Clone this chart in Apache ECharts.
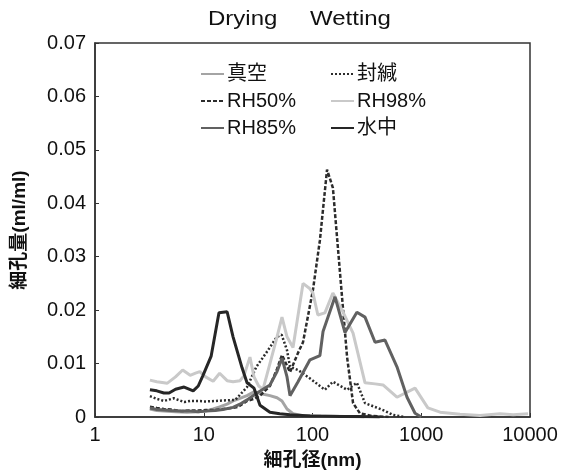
<!DOCTYPE html>
<html>
<head>
<meta charset="utf-8">
<script src="https://cdn.jsdelivr.net/npm/echarts@6/dist/echarts.min.js"></script>
<style>
html,body{margin:0;padding:0;background:#fff;}
#c{width:571px;height:476px;}
</style>
</head>
<body>
<div id="c"></div>
<script>
// Data: [pore diameter (nm), pore volume (ml/ml)]
var shinku = [[3.2,0.0015],[3.7,0.0012],[4.3,0.0011],[5.5,0.0010],[7.0,0.0009],[8.9,0.0010],[10.4,0.0011],[12.2,0.0015],[14.0,0.0019],[16.4,0.0024],[18.6,0.0030],[21.5,0.0035],[25.0,0.0040],[29.0,0.0047],[33.0,0.0044],[40.6,0.0040],[47.2,0.0036],[52.4,0.0030],[58.3,0.0015],[66.2,0.0006],[80,0.0003],[120,0.0002],[200,0.0001],[300,0]];
var fukan = [[3.2,0.0039],[3.7,0.0034],[4.3,0.0030],[5.3,0.0035],[6.6,0.0028],[7.5,0.0030],[8.9,0.0030],[10.4,0.0029],[12.7,0.0030],[15.0,0.0031],[19.5,0.0032],[25.0,0.0056],[30.5,0.0094],[39.0,0.0125],[47.0,0.0150],[52.0,0.0154],[58.3,0.0125],[62.1,0.0094],[73.6,0.0088],[85,0.0079],[101,0.0068],[117,0.0058],[130,0.0051],[154,0.0066],[208,0.0051],[256,0.0064],[304,0.0026],[445,0.0013],[550,0.0004],[700,0.0]];
var rh50 = [[3.2,0.0019],[3.7,0.0017],[4.3,0.0015],[5.0,0.0014],[6.2,0.0011],[7.5,0.0012],[8.9,0.0012],[10.4,0.0013],[12.7,0.0013],[15.0,0.0015],[18.6,0.0017],[20.7,0.0019],[25.0,0.0030],[29.0,0.0034],[32.9,0.0040],[40.6,0.0058],[47.2,0.0090],[52.4,0.0116],[62.1,0.0084],[73.6,0.0120],[81.8,0.0140],[101,0.0238],[117,0.0331],[136,0.0463],[154,0.0429],[179,0.0270],[208,0.0112],[236,0.0026],[273,0.0007],[350,0.0002],[500,0]];
var rh98 = [[3.2,0.0069],[3.7,0.0066],[4.3,0.0064],[4.6,0.0063],[5.5,0.0075],[6.4,0.0088],[7.5,0.0078],[8.4,0.0082],[9.2,0.0085],[10.4,0.0075],[12.2,0.0067],[14.0,0.0082],[16.4,0.0068],[18.6,0.0066],[21.5,0.0068],[23.4,0.0077],[26.6,0.0112],[29.0,0.0075],[32.0,0.0058],[35.1,0.0052],[40.6,0.0100],[47.2,0.0150],[52.4,0.0187],[58.3,0.0150],[66.2,0.0130],[81.8,0.0250],[94.8,0.0240],[101,0.0232],[112,0.0191],[130,0.0195],[154,0.0232],[187,0.0200],[236,0.0157],[304,0.0064],[376,0.0062],[445,0.0060],[598,0.0037],[877,0.0054],[1150,0.0017],[1490,0.0009],[2270,0.0005],[3470,0.0003],[5300,0.0006],[7000,0.0004],[9590,0.0006]];
var rh85 = [[3.2,0.0017],[3.7,0.0014],[4.3,0.0013],[5.0,0.0012],[6.2,0.0011],[7.5,0.0011],[8.9,0.0010],[10.4,0.0011],[12.7,0.0012],[15.0,0.0014],[18.6,0.0018],[21.5,0.0024],[25.0,0.0032],[30.9,0.0045],[40.6,0.0060],[47.2,0.0085],[52.4,0.0110],[58.3,0.0075],[62.1,0.0040],[73.6,0.0066],[94.8,0.0107],[117,0.0115],[125,0.0160],[161,0.0225],[199,0.0158],[256,0.0196],[304,0.0187],[376,0.0140],[464,0.0144],[598,0.0094],[740,0.0037],[877,0.0007],[1000,0.0]];
var suichu = [[3.2,0.0051],[3.7,0.0049],[4.3,0.0045],[4.8,0.0045],[5.5,0.0052],[6.6,0.0056],[8.0,0.0049],[8.9,0.0058],[9.8,0.0077],[11.7,0.0114],[13.8,0.0195],[16.4,0.0197],[18.6,0.0150],[22.5,0.0092],[25.0,0.0064],[29.0,0.0054],[32.9,0.0022],[40.6,0.0009],[50,0.0006],[62,0.0004],[95,0.0002],[180,0.0001],[273,0.0001],[415,0]];
var xTicks = [1,10,100,1000,10000];
var yMax = 0.07, yStep = 0.01;

var chart = echarts.init(document.getElementById('c'), null, {renderer:'canvas'});
var latin = '"Liberation Sans", Arial, sans-serif';
var cjk = '"Liberation Sans", "Noto Sans CJK JP", sans-serif';
function mk(name, data, color, width, type){
  return {name:name, type:'line', data:data, symbol:'none', showSymbol:false,
    lineStyle:{color:color, width:width, type:type}, itemStyle:{color:color},
    emphasis:{disabled:true}, animation:false, z: 2};
}
var legendCommon = {top:59, orient:'vertical', itemGap:7, itemWidth:23, itemHeight:14,
  itemStyle:{opacity:0}, textStyle:{fontSize:20, color:'#111', fontFamily:cjk, padding:[0,0,0,-2]}};
chart.setOption({
  animation:false,
  backgroundColor:'#fff',
  grid:{left:95, right:41, top:43, bottom:59, show:true, borderColor:'#333', borderWidth:1.5, backgroundColor:'transparent'},
  legend:[
    Object.assign({left:195, data:['真空','RH50%','RH85%']}, legendCommon),
    Object.assign({left:325, data:['封緘','RH98%','水中']}, legendCommon)
  ],
  graphic:[
    {type:'text', x:208, y:9, scaleX:1.2, style:{text:'Drying', font:'20px "Liberation Sans", Arial', fill:'#111'}},
    {type:'text', x:310, y:9, scaleX:1.2, style:{text:'Wetting', font:'20px "Liberation Sans", Arial', fill:'#111'}}
  ],
  xAxis:{type:'log', logBase:10, min:1, max:10000,
    name:'細孔径(nm)', nameLocation:'middle', nameGap:34,
    nameTextStyle:{fontSize:19, fontWeight:'bold', color:'#111', fontFamily:cjk},
    axisLine:{show:true, lineStyle:{color:'#333', width:1.5}},
    axisTick:{show:true, inside:true, length:4, lineStyle:{color:'#333'}},
    minorTick:{show:false}, splitLine:{show:false},
    axisLabel:{fontSize:20, color:'#111', margin:8, fontFamily:latin,
      formatter:function(v){ return xTicks.indexOf(Math.round(v))>=0 ? String(Math.round(v)) : ''; }}
  },
  yAxis:{type:'value', min:0, max:yMax, interval:yStep,
    name:'細孔量(ml/ml)', nameLocation:'middle', nameGap:66, nameRotate:90,
    nameTextStyle:{fontSize:19, fontWeight:'bold', color:'#111', fontFamily:cjk},
    axisLine:{show:true, lineStyle:{color:'#333', width:1.5}},
    axisTick:{show:true, inside:true, length:4, lineStyle:{color:'#333'}},
    splitLine:{show:false},
    axisLabel:{fontSize:20, color:'#111', margin:9, fontFamily:latin,
      formatter:function(v){ return v===0 ? '0' : v.toFixed(2); }}
  },
  series:[
    mk('真空', shinku, '#a4a4a4', 3, 'solid'),
    mk('封緘', fukan, '#2c2c2c', 2.5, [2,2]),
    mk('RH50%', rh50, '#2c2c2c', 2.5, [4,2]),
    mk('RH98%', rh98, '#c9c9c9', 3, 'solid'),
    mk('RH85%', rh85, '#616161', 3, 'solid'),
    mk('水中', suichu, '#262626', 3, 'solid')
  ]
});
</script>
</body>
</html>
